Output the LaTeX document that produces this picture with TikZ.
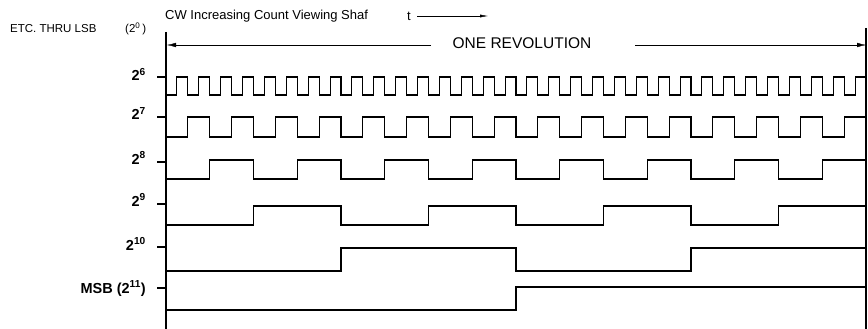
\documentclass[tikz,border=0pt]{standalone}
\usepackage{fontspec}
\setmainfont{Liberation Sans}
\usetikzlibrary{arrows.meta}
\tikzset {
  x=1pt, y=-1pt,
  % waveforms and the frame
  sig/.style={line width=1.1pt, line join=miter},
  frame/.style={line width=1.2pt},
  % bit labels on the left
  bit/.style={anchor=base east, inner sep=0pt, font=\fontsize{14.5}{16}\selectfont\bfseries},
  note/.style={anchor=west, inner sep=0pt, font=\fontsize{11.5}{13}\selectfont},
  >={Latex[length=9pt,width=4.5pt]},
}
% square wave: high y, low y, number of periods
\newcommand{\wave}[3]{
  \draw[sig] (166,#2) foreach \i in {1,...,#3} {
    -- ++(350/#3,0) -- ++(0,#1-#2) -- ++(350/#3,0) -- ++(0,#2-#1)};
}

\begin{document}
\begin{tikzpicture}
  \useasboundingbox (0,0) rectangle (868,329);

  \node[note] (etc) at (10,29) {ETC. THRU LSB};
  \node[note] (lsb) at (125,29) {(2\textsuperscript{0}\,)};
  \node[note, font=\fontsize{13}{15}\selectfont] (cw) at (165,16) {CW Increasing Count Viewing Shaf};
  \node[note, font=\fontsize{13}{15}\selectfont] (t) at (407,16) {t};
  \coordinate (tend) at (488,16);
  \draw[->, >={Latex[length=8pt,width=3pt]}] ([xshift=6pt]t.east) -- (tend);

  \node[inner sep=0pt, font=\fontsize{15.5}{18}\selectfont] (rev) at (522,43) {ONE REVOLUTION};
  \coordinate (revl) at (167,45);
  \coordinate (revr) at (866,45);
  \coordinate (a1) at (431,45);
  \coordinate (a2) at (635,45);
  \draw[->] (a1) -- (revl);
  \draw[->] (a2) -- (revr);

  \node[bit] (b6) at (146,81) {2\textsuperscript{6}};
  \node[bit] (b7) at (146,120) {2\textsuperscript{7}};
  \node[bit] (b8) at (146,164) {2\textsuperscript{8}};
  \node[bit] (b9) at (146,206) {2\textsuperscript{9}};
  \node[bit] (b10) at (146,250) {2\textsuperscript{10}};
  \node[bit] (b11) at (146,293) {MSB (2\textsuperscript{11})};

  \foreach \y in {77,117,162,204,247,288}
    \draw[frame] (157,\y) -- (166,\y);

  \wave{77}{95}{32}
  \wave{117}{137}{16}
  \wave{160}{179}{8}
  \wave{206}{225}{4}
  \wave{248}{271}{2}
  \wave{287}{310}{1}

  \draw[frame] (166,32) -- (166,329);
  \draw[frame] (866,28) -- (866,329);
\end{tikzpicture}
\end{document}
